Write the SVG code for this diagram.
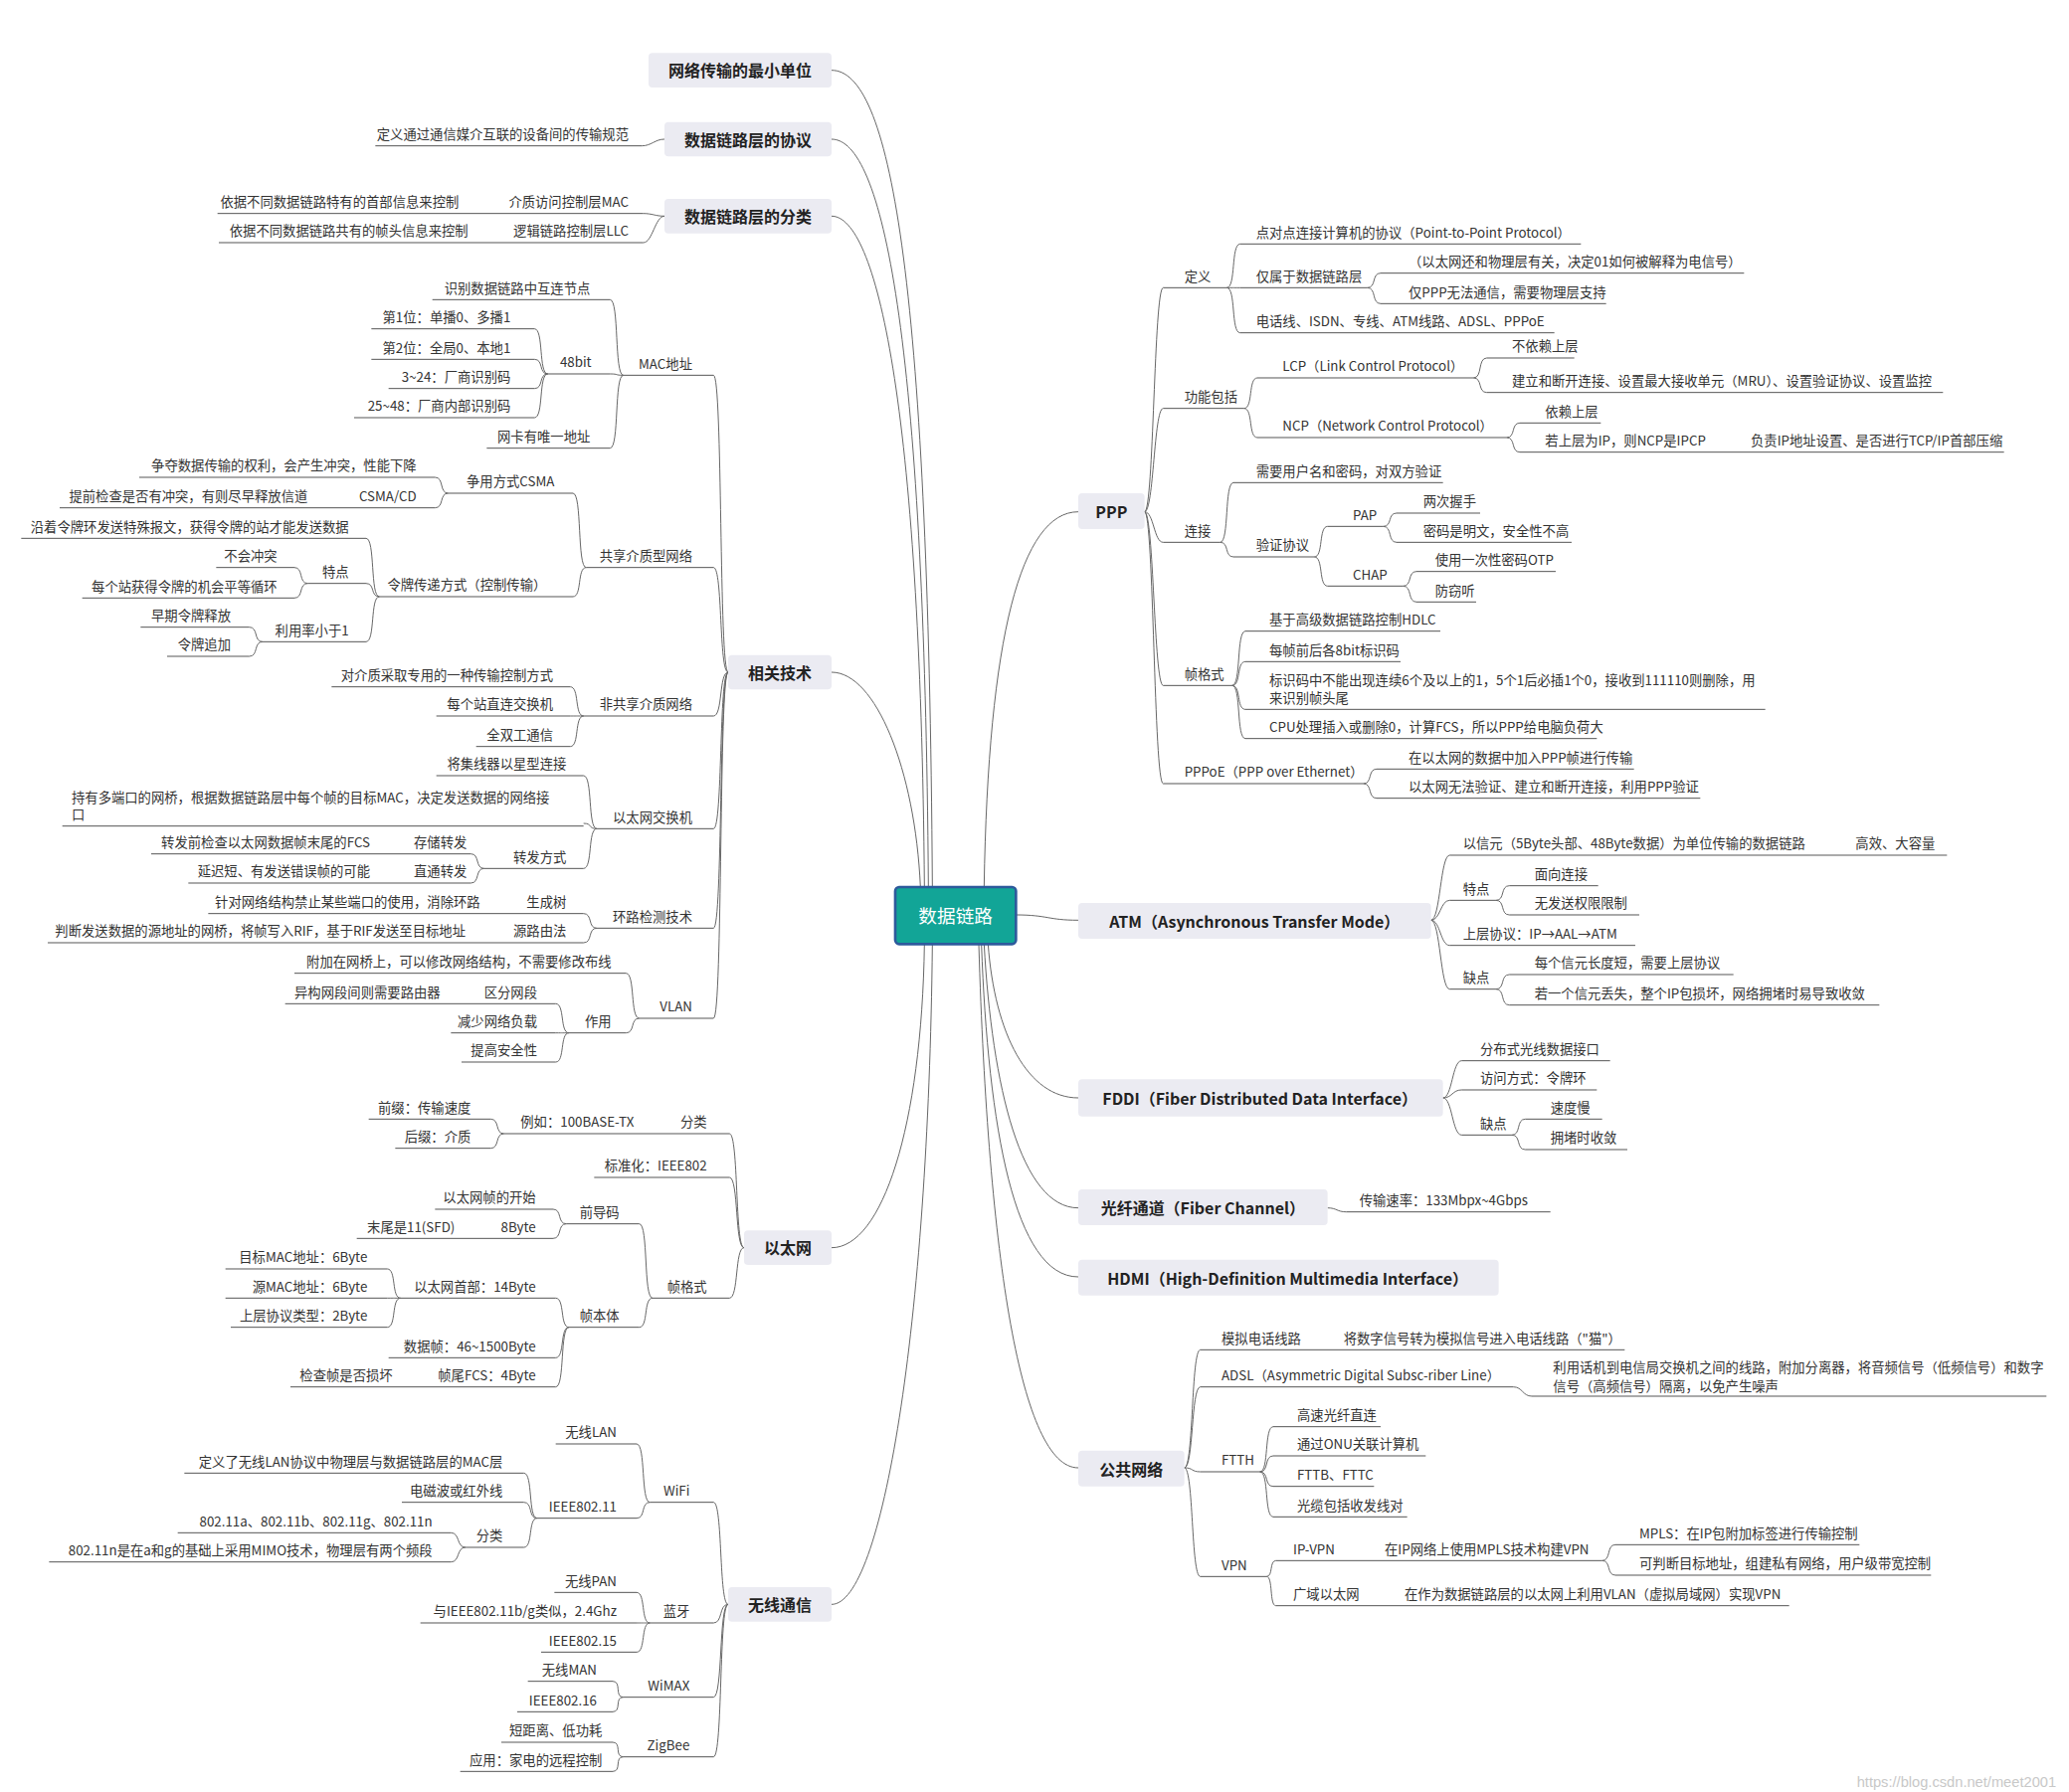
<svg xmlns="http://www.w3.org/2000/svg" width="2080" height="1802" viewBox="0 0 2080 1802">
<style>
.t{font-family:"Noto Sans CJK SC","Liberation Sans",sans-serif;font-size:10px;fill:#333}
.e{text-anchor:end}
.bt{font-family:"Noto Sans CJK SC","Liberation Sans",sans-serif;font-size:12px;font-weight:bold;fill:#222;text-anchor:middle}
.b{fill:#ebebf2}
.u{stroke:#555;stroke-width:0.75}
.c{fill:none;stroke:#666;stroke-width:0.75}
.wm{font-family:"Liberation Sans",sans-serif;font-size:11px;fill:#c8c8c8}
</style>
<rect width="2080" height="1802" fill="#fff"/>
<g transform="scale(1.333333)">
<g id="connectors">
<path class="c" d="M627 53C670 53 700 200 703 669M627 105C665 105 697 250 700 669M627 163C660 163 694 300 697 669M627 507C660 507 690 580 694 669M627 941C665 941 695 850 697 712M627 1210C665 1210 700 1000 703 712"/>
<path class="c" d="M813 386C770 386 745 480 742 669M766 690C790 690 790 694 813 694M745 712C750 780 775 828 813 828M742 712C748 820 770 911 813 911M740 712C745 850 765 963 813 963M738 712C745 950 770 1107 813 1107"/>
<path class="c" d="M501 105C494 105 491 110 484 110M501 163C494 163 492 161 485 161M501 163C494 163 492 183 485 183
M549 507C542 507 545 283 538 283M549 507C542 507 545 428 538 428M549 507C542 507 545 540 538 540M549 507C542 507 545 625 538 625M549 507C542 507 545 700 538 700M549 507C542 507 545 768 538 768
M470 283C463 283 467 226 460 226M470 283C463 283 467 282 460 282M470 283C463 283 467 338 460 338
M413 282C406 282 410 248 403 248M413 282C406 282 410 271 403 271M413 282C406 282 410 293 403 293M413 282C406 282 410 315 403 315
M442 428C435 428 439 372 432 372M442 428C435 428 439 450 432 450
M338 372C331 372 335 360 328 360M338 372C331 372 335 383 328 383
M286 450C279 450 283 406 276 406M286 450C279 450 283 440 276 440M286 450C279 450 283 484 276 484
M232 440C225 440 229 428 222 428M232 440C225 440 229 451 222 451
M198 484C191 484 195 473 188 473M198 484C191 484 195 495 188 495
M440 540C433 540 437 518 430 518M440 540C433 540 437 540 430 540M440 540C433 540 437 563 430 563
M450 625C443 625 447 585 440 585M450 625C443 625 447 621 440 621M450 625C443 625 447 655 440 655
M365 655C358 655 362 644 355 644M365 655C358 655 362 666 355 666
M450 700C443 700 447 689 440 689M450 700C443 700 447 711 440 711
M482 768C475 768 479 734 472 734M482 768C475 768 479 779 472 779
M429 779C422 779 426 757 419 757M429 779C422 779 426 779 419 779M429 779C422 779 426 801 419 801
M561 941C554 941 557 855 550 855M561 941C554 941 557 888 550 888M561 941C554 941 557 979 550 979
M380 855C373 855 377 844 370 844M380 855C373 855 377 866 370 866
M492 979C485 979 489 923 482 923M492 979C485 979 489 1001 482 1001
M427 923C420 923 424 912 417 912M427 923C420 923 424 934 417 934
M429 1001C422 1001 426 979 419 979M429 1001C422 1001 426 1024 419 1024M429 1001C422 1001 426 1046 419 1046
M302 979C295 979 299 957 292 957M302 979C295 979 299 979 292 979M302 979C295 979 299 1001 292 1001
M549 1210C542 1210 545 1133 538 1133M549 1210C542 1210 545 1224 538 1224M549 1210C542 1210 545 1280 538 1280M549 1210C542 1210 545 1325 538 1325
M490 1133C483 1133 487 1089 480 1089M490 1133C483 1133 487 1145 480 1145
M405 1145C398 1145 402 1111 395 1111M405 1145C398 1145 402 1133 395 1133M405 1145C398 1145 402 1167 395 1167
M351 1167C344 1167 347 1156 340 1156M351 1167C344 1167 347 1178 340 1178
M490 1224C483 1224 487 1201 480 1201M490 1224C483 1224 487 1224 480 1224M490 1224C483 1224 487 1246 480 1246
M470 1280C463 1280 469 1268 462 1268M470 1280C463 1280 469 1291 462 1291
M470 1325C463 1325 469 1314 462 1314M470 1325C463 1325 469 1336 462 1336"/>
<path class="c" d="M863 386C870 386 870 217 877 217M863 386C870 386 870 308 877 308M863 386C870 386 870 409 877 409M863 386C870 386 870 517 877 517M863 386C870 386 870 591 877 591
M925 217C932 217 928 184 935 184M925 217C932 217 928 217 935 217M925 217C932 217 928 251 935 251
M1031 217C1038 217 1034 206 1041 206M1031 217C1038 217 1034 229 1041 229
M938 308C945 308 941 285 948 285M938 308C945 308 941 330 948 330
M1111 285C1118 285 1114 270 1121 270M1111 285C1118 285 1114 296 1121 296
M1136 330C1143 330 1139 319 1146 319M1136 330C1143 330 1139 341 1146 341
M920 409C927 409 923 364 930 364M920 409C927 409 923 420 930 420
M991 420C998 420 994 397 1001 397M991 420C998 420 994 442 1001 442
M1043 397C1050 397 1046 387 1053 387M1043 397C1050 397 1046 409 1053 409
M1058 442C1065 442 1061 431 1068 431M1058 442C1065 442 1061 454 1068 454
M929 517C936 517 932 476 939 476M929 517C936 517 932 499 939 499M929 517C936 517 932 535 939 535M929 517C936 517 932 557 939 557
M1028 591C1035 591 1031 580 1038 580M1028 591C1035 591 1031 602 1038 602
M1079 694C1086 694 1086 645 1093 645M1079 694C1086 694 1086 679 1093 679M1079 694C1086 694 1086 713 1093 713M1079 694C1086 694 1086 746 1093 746
M1128 679C1135 679 1131 668 1138 668M1128 679C1135 679 1131 690 1138 690
M1128 746C1135 746 1131 735 1138 735M1128 746C1135 746 1131 758 1138 758
M1088 828C1095 828 1095 800 1102 800M1088 828C1095 828 1095 822 1102 822M1088 828C1095 828 1095 856 1102 856
M1140 856C1147 856 1143 844 1150 844M1140 856C1147 856 1143 867 1150 867
M1001 911C1008 911 1008 914 1015 914
M893 1107C900 1107 898 1018 905 1018M893 1107C900 1107 898 1046 905 1046M893 1107C900 1107 898 1110 905 1110M893 1107C900 1107 898 1189 905 1189
M1141 1046C1148 1046 1148 1053 1155 1053
M950 1110C957 1110 953 1076 960 1076M950 1110C957 1110 953 1098 960 1098M950 1110C957 1110 953 1121 960 1121M950 1110C957 1110 953 1144 960 1144
M955 1189C960 1189 957 1177 962 1177M955 1189C960 1189 957 1211 962 1211
M1208 1177C1215 1177 1211 1165 1218 1165M1208 1177C1215 1177 1211 1188 1218 1188"/>
</g>
<g id="center"><rect x="675" y="669" width="91" height="43" rx="3" fill="#12a597" stroke="#2d5a9c" stroke-width="2"/><text x="720.5" y="696" font-family="Noto Sans CJK SC,sans-serif" font-size="14" fill="#fff" text-anchor="middle">数据链路</text></g>
<g id="m-min"><rect class="b" x="489" y="40" width="138" height="26" rx="3"/><text class="bt" x="558" y="58">网络传输的最小单位</text></g>
<g id="m-proto"><rect class="b" x="501" y="92" width="126" height="26" rx="3"/><text class="bt" x="564" y="110">数据链路层的协议</text></g>
<g id="m-class"><rect class="b" x="501" y="150" width="126" height="26" rx="3"/><text class="bt" x="564" y="168">数据链路层的分类</text></g>
<g id="m-tech"><rect class="b" x="549" y="494" width="78" height="26" rx="3"/><text class="bt" x="588" y="512">相关技术</text></g>
<g id="m-eth"><rect class="b" x="561" y="928" width="66" height="26" rx="3"/><text class="bt" x="594" y="946">以太网</text></g>
<g id="m-wl"><rect class="b" x="549" y="1197" width="78" height="26" rx="3"/><text class="bt" x="588" y="1215">无线通信</text></g>
<g id="m-ppp"><rect class="b" x="813" y="372" width="50" height="27" rx="3"/><text class="bt" x="838" y="391">PPP</text></g>
<g id="m-atm"><rect class="b" x="813" y="681" width="266" height="27" rx="3"/><text class="bt" x="946" y="700">ATM（Asynchronous Transfer Mode）</text></g>
<g id="m-fddi"><rect class="b" x="813" y="814" width="275" height="28" rx="3"/><text class="bt" x="950" y="833">FDDI（Fiber Distributed Data Interface）</text></g>
<g id="m-fc"><rect class="b" x="813" y="897" width="188" height="27" rx="3"/><text class="bt" x="907" y="916">光纤通道（Fiber Channel）</text></g>
<g id="m-hdmi"><rect class="b" x="813" y="950" width="317" height="27" rx="3"/><text class="bt" x="971" y="969">HDMI（High-Definition Multimedia Interface）</text></g>
<g id="m-pub"><rect class="b" x="813" y="1094" width="80" height="27" rx="3"/><text class="bt" x="853" y="1113">公共网络</text></g>

<g id="L-left">
<g id="l1"><text class="t e" x="474" y="105">定义通过通信媒介互联的设备间的传输规范</text><line class="u" x1="283" y1="110" x2="484" y2="110"/></g>
<g id="l2"><text class="t e" x="474" y="156">介质访问控制层MAC</text><text class="t e" x="346" y="156">依据不同数据链路特有的首部信息来控制</text><line class="u" x1="164" y1="161" x2="485" y2="161"/></g>
<g id="l3"><text class="t e" x="474" y="178">逻辑链路控制层LLC</text><text class="t e" x="353" y="178">依据不同数据链路共有的帧头信息来控制</text><line class="u" x1="165" y1="183" x2="485" y2="183"/></g>
<g id="mac"><text class="t e" x="522" y="278">MAC地址</text><line class="u" x1="470" y1="283" x2="538" y2="283"/></g>
<g id="mac1"><text class="t e" x="445" y="221">识别数据链路中互连节点</text><line class="u" x1="326" y1="226" x2="460" y2="226"/></g>
<g id="b48"><text class="t e" x="446" y="277">48bit</text><line class="u" x1="413" y1="282" x2="460" y2="282"/></g>
<g id="b1"><text class="t e" x="385" y="243">第1位：单播0、多播1</text><line class="u" x1="280" y1="248" x2="403" y2="248"/></g>
<g id="b2"><text class="t e" x="385" y="266">第2位：全局0、本地1</text><line class="u" x1="280" y1="271" x2="403" y2="271"/></g>
<g id="b3"><text class="t e" x="385" y="288">3~24：厂商识别码</text><line class="u" x1="293" y1="293" x2="403" y2="293"/></g>
<g id="b4"><text class="t e" x="385" y="310">25~48：厂商内部识别码</text><line class="u" x1="267" y1="315" x2="403" y2="315"/></g>
<g id="mac3"><text class="t e" x="445" y="333">网卡有唯一地址</text><line class="u" x1="367" y1="338" x2="460" y2="338"/></g>
<g id="share"><text class="t e" x="522" y="423">共享介质型网络</text><line class="u" x1="442" y1="428" x2="538" y2="428"/></g>
<g id="csma"><text class="t e" x="418" y="367">争用方式CSMA</text><line class="u" x1="338" y1="372" x2="432" y2="372"/></g>
<g id="csma1"><text class="t e" x="314" y="355">争夺数据传输的权利，会产生冲突，性能下降</text><line class="u" x1="105" y1="360" x2="328" y2="360"/></g>
<g id="csma2"><text class="t e" x="314" y="378">CSMA/CD</text><text class="t e" x="232" y="378">提前检查是否有冲突，有则尽早释放信道</text><line class="u" x1="45" y1="383" x2="328" y2="383"/></g>
<g id="token"><text class="t e" x="412" y="445">令牌传递方式（控制传输）</text><line class="u" x1="286" y1="450" x2="432" y2="450"/></g>
<g id="tk1"><text class="t e" x="263" y="401">沿着令牌环发送特殊报文，获得令牌的站才能发送数据</text><line class="u" x1="16" y1="406" x2="276" y2="406"/></g>
<g id="tk2"><text class="t e" x="263" y="435">特点</text><line class="u" x1="232" y1="440" x2="276" y2="440"/></g>
<g id="tk21"><text class="t e" x="209" y="423">不会冲突</text><line class="u" x1="163" y1="428" x2="222" y2="428"/></g>
<g id="tk22"><text class="t e" x="209" y="446">每个站获得令牌的机会平等循环</text><line class="u" x1="62" y1="451" x2="222" y2="451"/></g>
<g id="tk3"><text class="t e" x="263" y="479">利用率小于1</text><line class="u" x1="198" y1="484" x2="276" y2="484"/></g>
<g id="tk31"><text class="t e" x="174" y="468">早期令牌释放</text><line class="u" x1="106" y1="473" x2="188" y2="473"/></g>
<g id="tk32"><text class="t e" x="174" y="490">令牌追加</text><line class="u" x1="126" y1="495" x2="188" y2="495"/></g>
<g id="nshare"><text class="t e" x="522" y="535">非共享介质网络</text><line class="u" x1="440" y1="540" x2="538" y2="540"/></g>
<g id="ns1"><text class="t e" x="417" y="513">对介质采取专用的一种传输控制方式</text><line class="u" x1="250" y1="518" x2="430" y2="518"/></g>
<g id="ns2"><text class="t e" x="417" y="535">每个站直连交换机</text><line class="u" x1="329" y1="540" x2="430" y2="540"/></g>
<g id="ns3"><text class="t e" x="417" y="558">全双工通信</text><line class="u" x1="359" y1="563" x2="430" y2="563"/></g>
<g id="sw"><text class="t e" x="522" y="620">以太网交换机</text><line class="u" x1="450" y1="625" x2="538" y2="625"/></g>
<g id="sw1"><text class="t e" x="427" y="580">将集线器以星型连接</text><line class="u" x1="329" y1="585" x2="440" y2="585"/></g>
<g id="sw2"><text class="t" x="54" y="605">持有多端口的网桥，根据数据链路层中每个帧的目标MAC，决定发送数据的网络接</text><text class="t" x="54" y="618">口</text><line class="u" x1="47" y1="623" x2="440" y2="623"/></g>
<g id="sw3"><text class="t e" x="427" y="650">转发方式</text><line class="u" x1="365" y1="655" x2="440" y2="655"/></g>
<g id="sw31"><text class="t e" x="352" y="639">存储转发</text><text class="t e" x="279" y="639">转发前检查以太网数据帧末尾的FCS</text><line class="u" x1="114" y1="644" x2="355" y2="644"/></g>
<g id="sw32"><text class="t e" x="352" y="661">直通转发</text><text class="t e" x="279" y="661">延迟短、有发送错误帧的可能</text><line class="u" x1="142" y1="666" x2="355" y2="666"/></g>
<g id="loop"><text class="t e" x="522" y="695">环路检测技术</text><line class="u" x1="450" y1="700" x2="538" y2="700"/></g>
<g id="lp1"><text class="t e" x="427" y="684">生成树</text><text class="t e" x="362" y="684">针对网络结构禁止某些端口的使用，消除环路</text><line class="u" x1="157" y1="689" x2="440" y2="689"/></g>
<g id="lp2"><text class="t e" x="427" y="706">源路由法</text><text class="t e" x="351" y="706">判断发送数据的源地址的网桥，将帧写入RIF，基于RIF发送至目标地址</text><line class="u" x1="36" y1="711" x2="440" y2="711"/></g>
<g id="vlan"><text class="t e" x="522" y="763">VLAN</text><line class="u" x1="482" y1="768" x2="538" y2="768"/></g>
<g id="vl1"><text class="t e" x="461" y="729">附加在网桥上，可以修改网络结构，不需要修改布线</text><line class="u" x1="222" y1="734" x2="472" y2="734"/></g>
<g id="vl2"><text class="t e" x="461" y="774">作用</text><line class="u" x1="429" y1="779" x2="472" y2="779"/></g>
<g id="vl21"><text class="t e" x="405" y="752">区分网段</text><text class="t e" x="332" y="752">异构网段间则需要路由器</text><line class="u" x1="215" y1="757" x2="419" y2="757"/></g>
<g id="vl22"><text class="t e" x="405" y="774">减少网络负载</text><line class="u" x1="340" y1="779" x2="419" y2="779"/></g>
<g id="vl23"><text class="t e" x="405" y="796">提高安全性</text><line class="u" x1="348" y1="801" x2="419" y2="801"/></g>
<g id="e1"><text class="t e" x="533" y="850">分类</text><text class="t e" x="478" y="850">例如：100BASE-TX</text><line class="u" x1="380" y1="855" x2="550" y2="855"/></g>
<g id="e11"><text class="t e" x="355" y="839">前缀：传输速度</text><line class="u" x1="278" y1="844" x2="370" y2="844"/></g>
<g id="e12"><text class="t e" x="355" y="861">后缀：介质</text><line class="u" x1="298" y1="866" x2="370" y2="866"/></g>
<g id="e2"><text class="t e" x="533" y="883">标准化：IEEE802</text><line class="u" x1="448" y1="888" x2="550" y2="888"/></g>
<g id="e3"><text class="t e" x="533" y="974">帧格式</text><line class="u" x1="492" y1="979" x2="550" y2="979"/></g>
<g id="e31"><text class="t e" x="467" y="918">前导码</text><line class="u" x1="427" y1="923" x2="482" y2="923"/></g>
<g id="e311"><text class="t e" x="404" y="907">以太网帧的开始</text><line class="u" x1="328" y1="912" x2="417" y2="912"/></g>
<g id="e312"><text class="t e" x="404" y="929">8Byte</text><text class="t e" x="343" y="929">末尾是11(SFD)</text><line class="u" x1="269" y1="934" x2="417" y2="934"/></g>
<g id="e32"><text class="t e" x="467" y="996">帧本体</text><line class="u" x1="429" y1="1001" x2="482" y2="1001"/></g>
<g id="e321"><text class="t e" x="404" y="974">以太网首部：14Byte</text><line class="u" x1="302" y1="979" x2="419" y2="979"/></g>
<g id="e3211"><text class="t e" x="277" y="952">目标MAC地址：6Byte</text><line class="u" x1="170" y1="957" x2="292" y2="957"/></g>
<g id="e3212"><text class="t e" x="277" y="974">源MAC地址：6Byte</text><line class="u" x1="170" y1="979" x2="292" y2="979"/></g>
<g id="e3213"><text class="t e" x="277" y="996">上层协议类型：2Byte</text><line class="u" x1="174" y1="1001" x2="292" y2="1001"/></g>
<g id="e322"><text class="t e" x="404" y="1019">数据帧：46~1500Byte</text><line class="u" x1="293" y1="1024" x2="419" y2="1024"/></g>
<g id="e323"><text class="t e" x="404" y="1041">帧尾FCS：4Byte</text><text class="t e" x="296" y="1041">检查帧是否损坏</text><line class="u" x1="219" y1="1046" x2="419" y2="1046"/></g>
<g id="wifi"><text class="t e" x="520" y="1128">WiFi</text><line class="u" x1="490" y1="1133" x2="538" y2="1133"/></g>
<g id="wf1"><text class="t e" x="465" y="1084">无线LAN</text><line class="u" x1="419" y1="1089" x2="480" y2="1089"/></g>
<g id="wf2"><text class="t e" x="465" y="1140">IEEE802.11</text><line class="u" x1="405" y1="1145" x2="480" y2="1145"/></g>
<g id="wf21"><text class="t e" x="379" y="1106">定义了无线LAN协议中物理层与数据链路层的MAC层</text><line class="u" x1="139" y1="1111" x2="395" y2="1111"/></g>
<g id="wf22"><text class="t e" x="379" y="1128">电磁波或红外线</text><line class="u" x1="303" y1="1133" x2="395" y2="1133"/></g>
<g id="wf23"><text class="t e" x="379" y="1162">分类</text><line class="u" x1="351" y1="1167" x2="395" y2="1167"/></g>
<g id="wf231"><text class="t e" x="326" y="1151">802.11a、802.11b、802.11g、802.11n</text><line class="u" x1="134" y1="1156" x2="340" y2="1156"/></g>
<g id="wf232"><text class="t e" x="326" y="1173">802.11n是在a和g的基础上采用MIMO技术，物理层有两个频段</text><line class="u" x1="37" y1="1178" x2="340" y2="1178"/></g>
<g id="bt"><text class="t e" x="520" y="1219">蓝牙</text><line class="u" x1="490" y1="1224" x2="538" y2="1224"/></g>
<g id="bt1"><text class="t e" x="465" y="1196">无线PAN</text><line class="u" x1="418" y1="1201" x2="480" y2="1201"/></g>
<g id="bt2"><text class="t e" x="465" y="1219">与IEEE802.11b/g类似，2.4Ghz</text><line class="u" x1="317" y1="1224" x2="480" y2="1224"/></g>
<g id="bt3"><text class="t e" x="465" y="1241">IEEE802.15</text><line class="u" x1="408" y1="1246" x2="480" y2="1246"/></g>
<g id="wimax"><text class="t e" x="520" y="1275">WiMAX</text><line class="u" x1="470" y1="1280" x2="538" y2="1280"/></g>
<g id="wm1"><text class="t e" x="450" y="1263">无线MAN</text><line class="u" x1="398" y1="1268" x2="462" y2="1268"/></g>
<g id="wm2"><text class="t e" x="450" y="1286">IEEE802.16</text><line class="u" x1="390" y1="1291" x2="462" y2="1291"/></g>
<g id="zig"><text class="t e" x="520" y="1320">ZigBee</text><line class="u" x1="470" y1="1325" x2="538" y2="1325"/></g>
<g id="zg1"><text class="t e" x="454" y="1309">短距离、低功耗</text><line class="u" x1="378" y1="1314" x2="462" y2="1314"/></g>
<g id="zg2"><text class="t e" x="454" y="1331">应用：家电的远程控制</text><line class="u" x1="347" y1="1336" x2="462" y2="1336"/></g>
</g>

<g id="R-right">
<g id="p1"><text class="t" x="893" y="212">定义</text><line class="u" x1="877" y1="217" x2="925" y2="217"/></g>
<g id="p11"><text class="t" x="947" y="179">点对点连接计算机的协议（Point-to-Point Protocol）</text><line class="u" x1="935" y1="184" x2="1192" y2="184"/></g>
<g id="p12"><text class="t" x="947" y="212">仅属于数据链路层</text><line class="u" x1="935" y1="217" x2="1031" y2="217"/></g>
<g id="p121"><text class="t" x="1062" y="201">（以太网还和物理层有关，决定01如何被解释为电信号）</text><line class="u" x1="1041" y1="206" x2="1315" y2="206"/></g>
<g id="p122"><text class="t" x="1062" y="224">仅PPP无法通信，需要物理层支持</text><line class="u" x1="1041" y1="229" x2="1211" y2="229"/></g>
<g id="p13"><text class="t" x="947" y="246">电话线、ISDN、专线、ATM线路、ADSL、PPPoE</text><line class="u" x1="935" y1="251" x2="1172" y2="251"/></g>
<g id="p2"><text class="t" x="893" y="303">功能包括</text><line class="u" x1="877" y1="308" x2="938" y2="308"/></g>
<g id="p21"><text class="t" x="967" y="280">LCP（Link Control Protocol）</text><line class="u" x1="948" y1="285" x2="1111" y2="285"/></g>
<g id="p211"><text class="t" x="1140" y="265">不依赖上层</text><line class="u" x1="1121" y1="270" x2="1187" y2="270"/></g>
<g id="p212"><text class="t" x="1140" y="291">建立和断开连接、设置最大接收单元（MRU）、设置验证协议、设置监控</text><line class="u" x1="1121" y1="296" x2="1465" y2="296"/></g>
<g id="p22"><text class="t" x="967" y="325">NCP（Network Control Protocol）</text><line class="u" x1="948" y1="330" x2="1136" y2="330"/></g>
<g id="p221"><text class="t" x="1165" y="314">依赖上层</text><line class="u" x1="1146" y1="319" x2="1207" y2="319"/></g>
<g id="p222"><text class="t" x="1165" y="336">若上层为IP，则NCP是IPCP</text><text class="t" x="1320" y="336">负责IP地址设置、是否进行TCP/IP首部压缩</text><line class="u" x1="1146" y1="341" x2="1511" y2="341"/></g>
<g id="p3"><text class="t" x="893" y="404">连接</text><line class="u" x1="877" y1="409" x2="920" y2="409"/></g>
<g id="p31"><text class="t" x="947" y="359">需要用户名和密码，对双方验证</text><line class="u" x1="930" y1="364" x2="1088" y2="364"/></g>
<g id="p32"><text class="t" x="947" y="415">验证协议</text><line class="u" x1="930" y1="420" x2="991" y2="420"/></g>
<g id="pap"><text class="t" x="1020" y="392">PAP</text><line class="u" x1="1001" y1="397" x2="1043" y2="397"/></g>
<g id="pap1"><text class="t" x="1073" y="382">两次握手</text><line class="u" x1="1053" y1="387" x2="1116" y2="387"/></g>
<g id="pap2"><text class="t" x="1073" y="404">密码是明文，安全性不高</text><line class="u" x1="1053" y1="409" x2="1185" y2="409"/></g>
<g id="chap"><text class="t" x="1020" y="437">CHAP</text><line class="u" x1="1001" y1="442" x2="1058" y2="442"/></g>
<g id="chap1"><text class="t" x="1082" y="426">使用一次性密码OTP</text><line class="u" x1="1068" y1="431" x2="1173" y2="431"/></g>
<g id="chap2"><text class="t" x="1082" y="449">防窃听</text><line class="u" x1="1068" y1="454" x2="1113" y2="454"/></g>
<g id="p4"><text class="t" x="893" y="512">帧格式</text><line class="u" x1="877" y1="517" x2="929" y2="517"/></g>
<g id="p41"><text class="t" x="957" y="471">基于高级数据链路控制HDLC</text><line class="u" x1="939" y1="476" x2="1086" y2="476"/></g>
<g id="p42"><text class="t" x="957" y="494">每帧前后各8bit标识码</text><line class="u" x1="939" y1="499" x2="1056" y2="499"/></g>
<g id="p43"><text class="t" x="957" y="517">标识码中不能出现连续6个及以上的1，5个1后必插1个0，接收到111110则删除，用</text><text class="t" x="957" y="530">来识别帧头尾</text><line class="u" x1="939" y1="535" x2="1331" y2="535"/></g>
<g id="p44"><text class="t" x="957" y="552">CPU处理插入或删除0，计算FCS，所以PPP给电脑负荷大</text><line class="u" x1="939" y1="557" x2="1204" y2="557"/></g>
<g id="p5"><text class="t" x="893" y="586">PPPoE（PPP over Ethernet）</text><line class="u" x1="877" y1="591" x2="1028" y2="591"/></g>
<g id="p51"><text class="t" x="1062" y="575">在以太网的数据中加入PPP帧进行传输</text><line class="u" x1="1038" y1="580" x2="1232" y2="580"/></g>
<g id="p52"><text class="t" x="1062" y="597">以太网无法验证、建立和断开连接，利用PPP验证</text><line class="u" x1="1038" y1="602" x2="1282" y2="602"/></g>
<g id="a1"><text class="t" x="1103" y="640">以信元（5Byte头部、48Byte数据）为单位传输的数据链路</text><text class="t" x="1399" y="640">高效、大容量</text><line class="u" x1="1093" y1="645" x2="1468" y2="645"/></g>
<g id="a2"><text class="t" x="1103" y="674">特点</text><line class="u" x1="1093" y1="679" x2="1128" y2="679"/></g>
<g id="a21"><text class="t" x="1157" y="663">面向连接</text><line class="u" x1="1138" y1="668" x2="1205" y2="668"/></g>
<g id="a22"><text class="t" x="1157" y="685">无发送权限限制</text><line class="u" x1="1138" y1="690" x2="1236" y2="690"/></g>
<g id="a3"><text class="t" x="1103" y="708">上层协议：IP→AAL→ATM</text><line class="u" x1="1093" y1="713" x2="1233" y2="713"/></g>
<g id="a4"><text class="t" x="1103" y="741">缺点</text><line class="u" x1="1093" y1="746" x2="1128" y2="746"/></g>
<g id="a41"><text class="t" x="1157" y="730">每个信元长度短，需要上层协议</text><line class="u" x1="1138" y1="735" x2="1307" y2="735"/></g>
<g id="a42"><text class="t" x="1157" y="753">若一个信元丢失，整个IP包损坏，网络拥堵时易导致收敛</text><line class="u" x1="1138" y1="758" x2="1417" y2="758"/></g>
<g id="f1"><text class="t" x="1116" y="795">分布式光线数据接口</text><line class="u" x1="1102" y1="800" x2="1214" y2="800"/></g>
<g id="f2"><text class="t" x="1116" y="817">访问方式：令牌环</text><line class="u" x1="1102" y1="822" x2="1204" y2="822"/></g>
<g id="f3"><text class="t" x="1116" y="851">缺点</text><line class="u" x1="1102" y1="856" x2="1140" y2="856"/></g>
<g id="f31"><text class="t" x="1169" y="839">速度慢</text><line class="u" x1="1150" y1="844" x2="1208" y2="844"/></g>
<g id="f32"><text class="t" x="1169" y="862">拥堵时收敛</text><line class="u" x1="1150" y1="867" x2="1227" y2="867"/></g>
<g id="fc1"><text class="t" x="1025" y="909">传输速率：133Mbpx~4Gbps</text><line class="u" x1="1015" y1="914" x2="1169" y2="914"/></g>
<g id="g1"><text class="t" x="921" y="1013">模拟电话线路</text><text class="t" x="1013" y="1013">将数字信号转为模拟信号进入电话线路（"猫"）</text><line class="u" x1="905" y1="1018" x2="1225" y2="1018"/></g>
<g id="g2"><text class="t" x="921" y="1041">ADSL（Asymmetric Digital Subsc-riber Line）</text><line class="u" x1="905" y1="1046" x2="1141" y2="1046"/></g>
<g id="g21"><text class="t" x="1171" y="1035">利用话机到电信局交换机之间的线路，附加分离器，将音频信号（低频信号）和数字</text><text class="t" x="1171" y="1049">信号（高频信号）隔离，以免产生噪声</text><line class="u" x1="1155" y1="1053" x2="1543" y2="1053"/></g>
<g id="g3"><text class="t" x="921" y="1105">FTTH</text><line class="u" x1="905" y1="1110" x2="950" y2="1110"/></g>
<g id="g31"><text class="t" x="978" y="1071">高速光纤直连</text><line class="u" x1="960" y1="1076" x2="1041" y2="1076"/></g>
<g id="g32"><text class="t" x="978" y="1093">通过ONU关联计算机</text><line class="u" x1="960" y1="1098" x2="1075" y2="1098"/></g>
<g id="g33"><text class="t" x="978" y="1116">FTTB、FTTC</text><line class="u" x1="960" y1="1121" x2="1036" y2="1121"/></g>
<g id="g34"><text class="t" x="978" y="1139">光缆包括收发线对</text><line class="u" x1="960" y1="1144" x2="1061" y2="1144"/></g>
<g id="g4"><text class="t" x="921" y="1184">VPN</text><line class="u" x1="905" y1="1189" x2="955" y2="1189"/></g>
<g id="g41"><text class="t" x="975" y="1172">IP-VPN</text><text class="t" x="1044" y="1172">在IP网络上使用MPLS技术构建VPN</text><line class="u" x1="962" y1="1177" x2="1208" y2="1177"/></g>
<g id="g411"><text class="t" x="1236" y="1160">MPLS：在IP包附加标签进行传输控制</text><line class="u" x1="1218" y1="1165" x2="1402" y2="1165"/></g>
<g id="g412"><text class="t" x="1236" y="1183">可判断目标地址，组建私有网络，用户级带宽控制</text><line class="u" x1="1218" y1="1188" x2="1456" y2="1188"/></g>
<g id="g42"><text class="t" x="975" y="1206">广域以太网</text><text class="t" x="1059" y="1206">在作为数据链路层的以太网上利用VLAN（虚拟局域网）实现VPN</text><line class="u" x1="962" y1="1211" x2="1349" y2="1211"/></g>
</g>
<text class="wm" x="1400" y="1348">https://blog.csdn.net/meet2001</text>
</g>
</svg>
